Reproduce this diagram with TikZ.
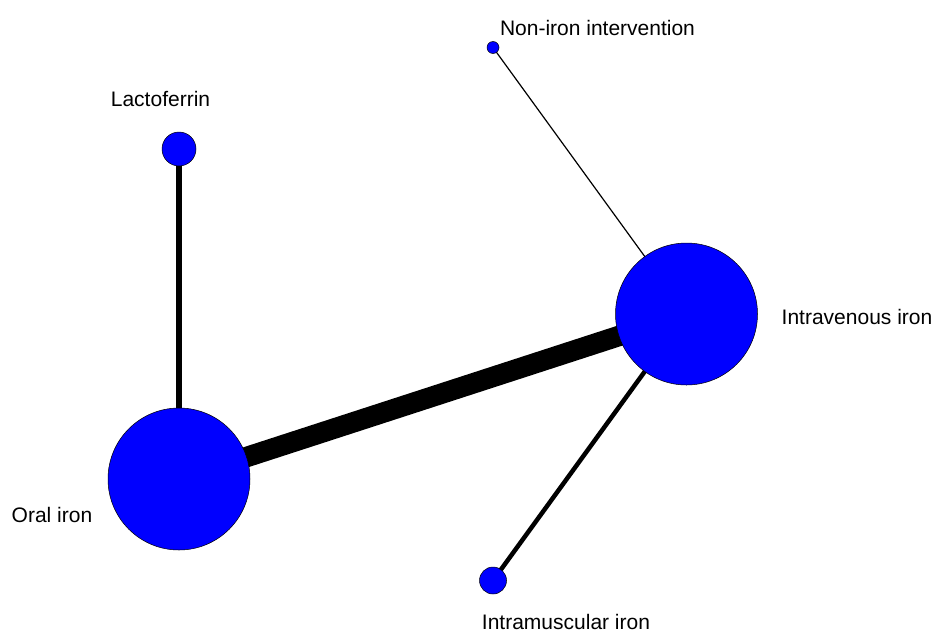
\documentclass[tikz,border=0pt]{standalone}
\usepackage{fontspec}
\setmainfont{Liberation Sans}
\usetikzlibrary{backgrounds}
\begin{document}
\begin{tikzpicture}[x=1pt,y=-1pt,
  treat/.style={circle,draw=black,line width=0.5pt,fill=blue,inner sep=0pt,minimum size=#1},
  lbl/.style={anchor=base,inner sep=0pt,text depth=0pt,font=\fontsize{21}{25}\selectfont},
  link/.style={draw=black,line width=#1}]
\useasboundingbox (0,0) rectangle (936,632);
% treatment nodes (size ~ number of patients)
\node[treat=34pt]  (lacto) at (179,149) {};
\node[treat=12pt]  (noniron) at (493,47.5) {};
\node[treat=142pt] (iv) at (686.5,314) {};
\node[treat=142pt] (oral) at (179,479) {};
\node[treat=27pt]  (im) at (493,580.5) {};
% labels
\node[lbl] (tlacto) at (160.5,106) {Lactoferrin};
\node[lbl] (tnon) at (597.5,35) {Non-iron intervention};
\node[lbl] (tiv) at (857,324) {Intravenous iron};
\node[lbl] (toral) at (52,522) {Oral iron};
\node[lbl] (tim) at (566,629) {Intramuscular iron};
% comparisons (width ~ number of trials)
\begin{scope}[on background layer]
  \draw[link=6pt]   (lacto.center) -- (oral.center);
  \draw[link=20.5pt] (oral.center) -- (iv.center);
  \draw[link=1.2pt] (noniron.center) -- (iv.center);
  \draw[link=4.5pt] (im.center) -- (iv.center);
\end{scope}
\end{tikzpicture}
\end{document}
